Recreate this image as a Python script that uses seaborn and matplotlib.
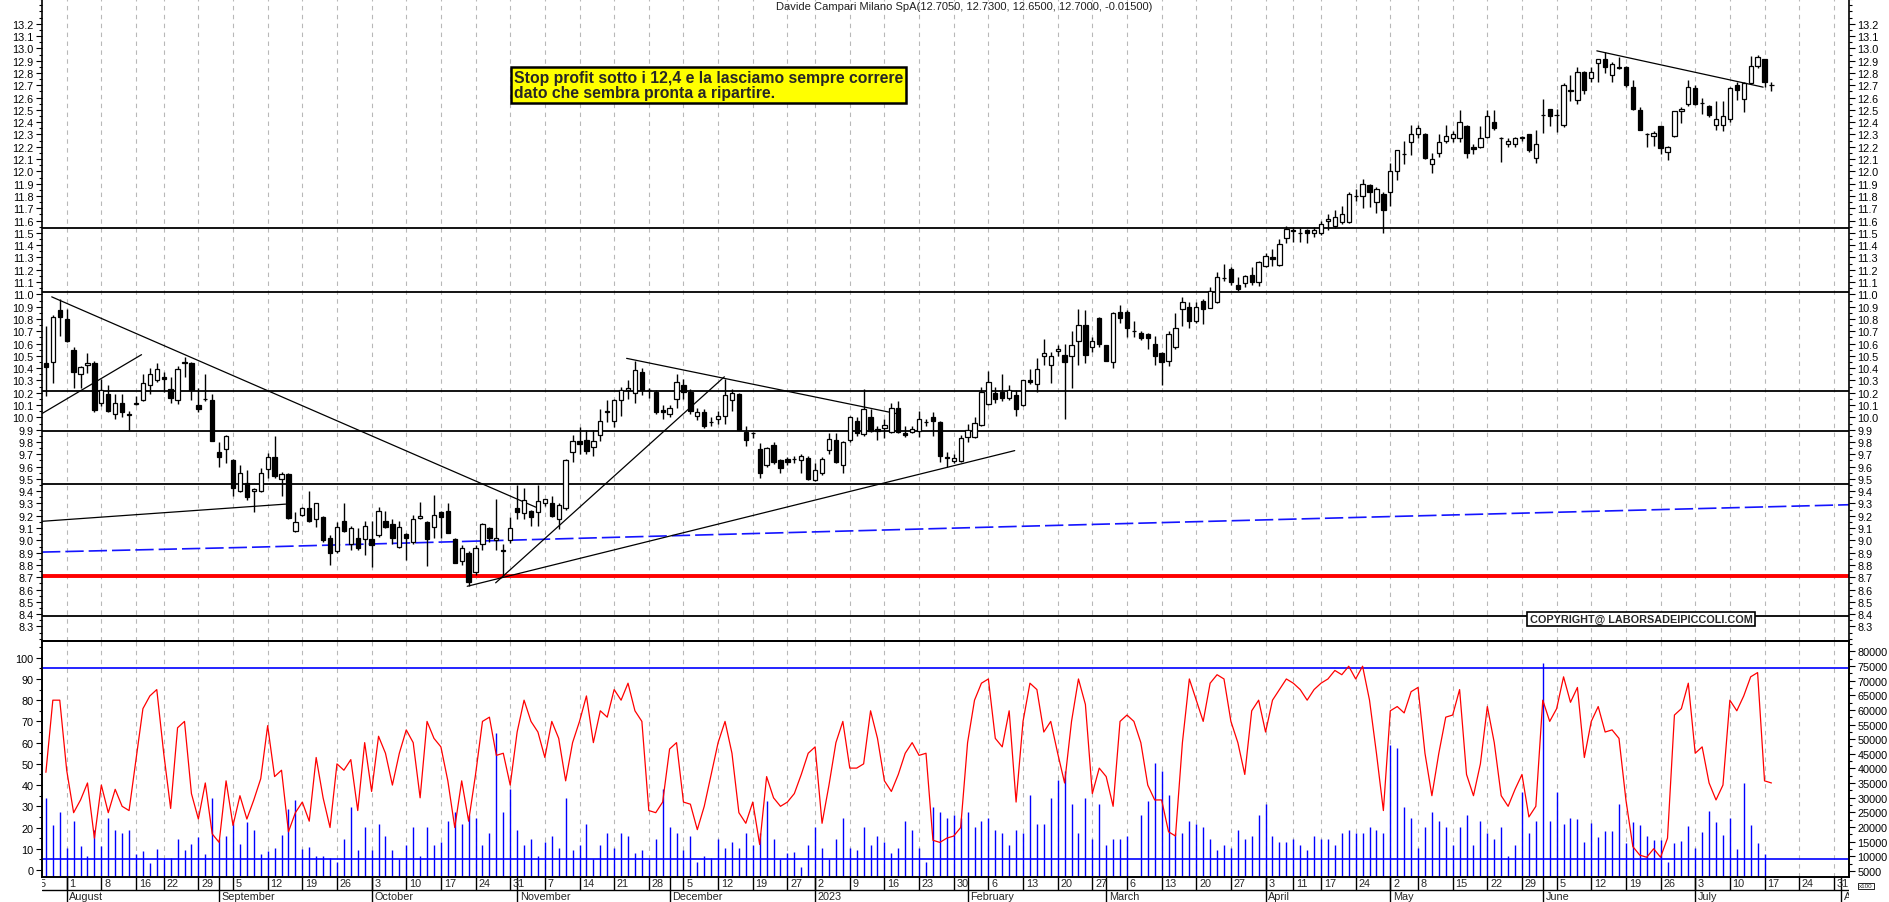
import numpy as np
import pandas as pd
import matplotlib
matplotlib.use("Agg")
import matplotlib.pyplot as plt
from matplotlib.ticker import FixedLocator, FormatStrFormatter
import seaborn as sns

sns.set_theme(style="white")
plt.rcParams['font.family'] = ['Liberation Sans', 'DejaVu Sans']

# ---------------- DATA ----------------
TITLE = "Davide Campari Milano SpA(12.7050, 12.7300, 12.6500, 12.7000, -0.01500)"
NOTE = "Stop profit sotto i 12,4 e la lasciamo sempre correre\ndato che sembra pronta a ripartire."
COPYRIGHT = "COPYRIGHT@ LABORSADEIPICCOLI.COM"
CAL_START, CAL_END = "2022-07-25", "2023-08-10"
FIRST_BAR = "2022-07-27"
HOLIDAYS = ["2022-08-15", "2022-12-26", "2023-04-07", "2023-04-10", "2023-05-01"]
MONTH_NAMES = {1: "2023", 2: "February", 3: "March", 4: "April", 5: "May", 6: "June",
               7: "July", 8: "August", 9: "September", 10: "October", 11: "November", 12: "December"}

opens = [10.44, 10.45, 10.87, 10.80, 10.55, 10.35, 10.43, 10.44, 10.12, 10.19,
         10.03, 10.12, 10.03, 10.11, 10.14, 10.26, 10.30, 10.33, 10.23, 10.14,
         10.44, 10.44, 10.10, 10.15, 10.14, 9.72, 9.74, 9.65, 9.40, 9.47,
         9.40, 9.40, 9.58, 9.68, 9.50, 9.54, 9.08, 9.21, 9.26, 9.17,
         9.19, 9.02, 8.91, 9.155, 8.97, 9.02, 9.01, 9.01, 9.04, 9.155,
         9.13, 8.95, 9.05, 8.99, 9.18, 9.15, 9.11, 9.23, 9.24, 9.01,
         8.83, 8.90, 8.745, 8.97, 9.10, 9.00, 8.91, 9.00, 9.26, 9.22,
         9.24, 9.23, 9.30, 9.30, 9.17, 9.26, 9.72, 9.81, 9.82, 9.76,
         9.86, 10.04, 9.97, 10.14, 10.22, 10.20, 10.366, 10.22, 10.21, 10.06,
         10.03, 10.15, 10.26, 10.21, 10.01, 10.04, 9.96, 9.99, 10.01, 10.14,
         10.19, 9.88, 9.87, 9.74, 9.61, 9.775, 9.65, 9.66, 9.66, 9.65,
         9.67, 9.49, 9.545, 9.735, 9.82, 9.61, 9.82, 9.97, 9.865, 10.0,
         9.905, 9.91, 9.88, 10.08, 9.873, 9.884, 9.886, 9.965, 10.0, 9.965,
         9.68, 9.648, 9.648, 9.84, 9.838, 9.94, 10.109, 10.20, 10.21, 10.16,
         10.18, 10.10, 10.30, 10.27, 10.50, 10.43, 10.54, 10.51, 10.50, 10.62,
         10.75, 10.57, 10.81, 10.59, 10.45, 10.86, 10.86, 10.70, 10.685, 10.675,
         10.60, 10.52, 10.46, 10.57, 10.88, 10.90, 10.78, 10.95, 10.89, 10.94,
         11.13, 11.21, 11.08, 11.09, 11.16, 11.10, 11.23, 11.30, 11.24, 11.46,
         11.52, 11.50, 11.52, 11.50, 11.50, 11.60, 11.56, 11.59, 11.59, 11.80,
         11.80, 11.89, 11.75, 11.82, 11.83, 12.00, 12.14, 12.24, 12.30, 12.30,
         12.06, 12.15, 12.25, 12.27, 12.27, 12.37, 12.20, 12.20, 12.28, 12.40,
         12.27, 12.22, 12.22, 12.27, 12.30, 12.11, 12.46, 12.51, 12.46, 12.38,
         12.65, 12.58, 12.81, 12.76, 12.88, 12.91, 12.78, 12.85, 12.85, 12.69,
         12.50, 12.30, 12.29, 12.37, 12.16, 12.29, 12.49, 12.55, 12.68, 12.56,
         12.53, 12.38, 12.38, 12.43, 12.70, 12.59, 12.72, 12.86, 12.91, 12.705]

highs = [10.74, 10.83, 10.96, 10.88, 10.57, 10.42, 10.52, 10.46, 10.31, 10.26,
         10.19, 10.19, 10.05, 10.17, 10.35, 10.40, 10.44, 10.37, 10.33, 10.42,
         10.49, 10.45, 10.24, 10.35, 10.19, 9.80, 9.86, 9.66, 9.61, 9.57,
         9.43, 9.59, 9.71, 9.85, 9.56, 9.55, 9.23, 9.27, 9.40, 9.30,
         9.20, 9.04, 9.15, 9.30, 9.12, 9.10, 9.16, 9.16, 9.27, 9.24,
         9.17, 9.16, 9.06, 9.21, 9.31, 9.16, 9.37, 9.24, 9.30, 9.02,
         8.96, 8.91, 8.96, 9.14, 9.11, 9.34, 8.97, 9.19, 9.45, 9.43,
         9.25, 9.45, 9.34, 9.36, 9.30, 9.66, 9.86, 9.92, 9.90, 9.90,
         10.07, 10.14, 10.15, 10.25, 10.30, 10.46, 10.40, 10.24, 10.22, 10.10,
         10.10, 10.35, 10.31, 10.23, 10.08, 10.07, 10.0, 10.05, 10.31, 10.23,
         10.20, 9.93, 9.88, 9.79, 9.76, 9.80, 9.66, 9.68, 9.69, 9.70,
         9.69, 9.63, 9.68, 9.87, 9.87, 9.81, 10.01, 10.0, 10.23, 10.07,
         9.93, 9.99, 10.12, 10.13, 9.93, 9.93, 10.05, 9.99, 10.04, 9.97,
         9.72, 9.70, 9.86, 9.95, 10.0, 10.25, 10.38, 10.25, 10.35, 10.26,
         10.22, 10.30, 10.39, 10.48, 10.64, 10.53, 10.59, 10.60, 10.70, 10.88,
         10.87, 10.65, 10.82, 10.59, 10.86, 10.91, 10.87, 10.78, 10.70, 10.69,
         10.66, 10.53, 10.70, 10.85, 10.98, 10.94, 10.94, 10.96, 11.06, 11.18,
         11.25, 11.22, 11.14, 11.16, 11.22, 11.27, 11.34, 11.37, 11.45, 11.56,
         11.55, 11.54, 11.53, 11.55, 11.60, 11.65, 11.69, 11.72, 11.83, 11.86,
         11.94, 11.90, 11.87, 11.83, 12.07, 12.17, 12.25, 12.38, 12.38, 12.31,
         12.15, 12.30, 12.38, 12.33, 12.50, 12.38, 12.22, 12.37, 12.50, 12.50,
         12.28, 12.27, 12.28, 12.29, 12.30, 12.34, 12.59, 12.51, 12.51, 12.72,
         12.78, 12.85, 12.82, 12.85, 12.91, 12.97, 12.89, 12.93, 12.86, 12.74,
         12.52, 12.31, 12.33, 12.37, 12.21, 12.49, 12.52, 12.74, 12.70, 12.60,
         12.54, 12.57, 12.57, 12.69, 12.73, 12.73, 12.94, 12.95, 12.91, 12.73]

lows = [10.17, 10.28, 10.66, 10.61, 10.24, 10.24, 10.36, 10.04, 10.09, 10.04,
        9.99, 10.00, 9.90, 10.10, 10.13, 10.19, 10.29, 10.21, 10.12, 10.11,
        10.33, 10.14, 10.04, 10.13, 9.81, 9.60, 9.63, 9.36, 9.39, 9.33,
        9.23, 9.39, 9.51, 9.51, 9.36, 9.17, 9.07, 9.20, 9.15, 9.11,
        8.99, 8.80, 8.90, 9.07, 8.92, 8.92, 8.88, 8.78, 9.03, 9.10,
        8.97, 8.94, 8.84, 8.97, 9.17, 8.79, 9.02, 9.02, 9.06, 8.82,
        8.80, 8.63, 8.72, 8.92, 8.99, 8.92, 8.71, 8.98, 9.17, 9.17,
        9.12, 9.12, 9.28, 9.19, 9.09, 9.25, 9.635, 9.70, 9.70, 9.69,
        9.81, 9.96, 9.92, 10.01, 10.15, 10.12, 10.18, 10.16, 10.03, 9.99,
        10.00, 10.08, 10.15, 10.03, 9.98, 9.91, 9.93, 9.95, 9.95, 10.05,
        9.90, 9.77, 9.83, 9.51, 9.60, 9.62, 9.55, 9.61, 9.63, 9.55,
        9.49, 9.48, 9.53, 9.70, 9.63, 9.55, 9.80, 9.85, 9.85, 9.88,
        9.82, 9.83, 9.87, 9.87, 9.84, 9.87, 9.84, 9.93, 9.85, 9.64,
        9.60, 9.63, 9.64, 9.80, 9.83, 9.93, 10.10, 10.12, 10.13, 10.14,
        10.01, 10.09, 10.27, 10.21, 10.43, 10.28, 10.50, 9.99, 10.24, 10.43,
        10.44, 10.53, 10.57, 10.46, 10.40, 10.77, 10.65, 10.65, 10.63, 10.56,
        10.43, 10.26, 10.42, 10.56, 10.74, 10.73, 10.77, 10.76, 10.89, 10.93,
        11.11, 11.08, 11.03, 11.06, 11.08, 11.07, 11.22, 11.23, 11.23, 11.42,
        11.43, 11.43, 11.42, 11.47, 11.48, 11.52, 11.54, 11.57, 11.58, 11.76,
        11.70, 11.71, 11.66, 11.50, 11.72, 11.93, 12.06, 12.13, 12.27, 12.10,
        11.99, 12.12, 12.23, 12.24, 12.24, 12.11, 12.14, 12.19, 12.27, 12.34,
        12.08, 12.20, 12.20, 12.25, 12.16, 12.07, 12.31, 12.37, 12.32, 12.36,
        12.57, 12.55, 12.63, 12.73, 12.73, 12.80, 12.73, 12.83, 12.69, 12.50,
        12.34, 12.20, 12.21, 12.14, 12.09, 12.28, 12.39, 12.53, 12.54, 12.47,
        12.44, 12.34, 12.33, 12.40, 12.58, 12.48, 12.71, 12.84, 12.69, 12.65]

closes = [10.41, 10.82, 10.82, 10.62, 10.37, 10.41, 10.44, 10.06, 10.22, 10.05,
          10.12, 10.04, 10.02, 10.12, 10.28, 10.35, 10.39, 10.31, 10.16, 10.39,
          10.45, 10.22, 10.07, 10.15, 9.81, 9.68, 9.85, 9.43, 9.55, 9.35,
          9.42, 9.55, 9.68, 9.52, 9.54, 9.18, 9.15, 9.26, 9.16, 9.30,
          9.00, 8.90, 9.11, 9.08, 9.10, 8.94, 9.12, 8.965, 9.24, 9.11,
          9.02, 9.11, 9.02, 9.17, 9.20, 9.01, 9.21, 9.19, 9.06, 8.82,
          8.94, 8.66, 8.94, 9.13, 9.02, 9.02, 8.92, 9.10, 9.23, 9.33,
          9.19, 9.32, 9.34, 9.20, 9.29, 9.65, 9.81, 9.78, 9.73, 9.81,
          9.97, 10.05, 10.14, 10.22, 10.24, 10.385, 10.225, 10.22, 10.04, 10.04,
          10.08, 10.285, 10.21, 10.05, 10.04, 9.93, 9.965, 10.01, 10.18, 10.20,
          9.90, 9.82, 9.87, 9.55, 9.75, 9.635, 9.59, 9.635, 9.66, 9.69,
          9.50, 9.57, 9.66, 9.825, 9.635, 9.80, 10.00, 9.87, 10.07, 9.89,
          9.89, 9.94, 10.08, 9.885, 9.857, 9.905, 9.987, 9.965, 9.973, 9.683,
          9.667, 9.67, 9.83, 9.90, 9.952, 10.204, 10.285, 10.15, 10.16, 10.22,
          10.07, 10.30, 10.285, 10.39, 10.52, 10.50, 10.56, 10.45, 10.59, 10.75,
          10.51, 10.62, 10.60, 10.46, 10.85, 10.81, 10.73, 10.70, 10.645, 10.645,
          10.50, 10.45, 10.68, 10.73, 10.94, 10.78, 10.90, 10.88, 11.03, 11.14,
          11.13, 11.10, 11.04, 11.15, 11.10, 11.26, 11.31, 11.29, 11.41, 11.53,
          11.515, 11.50, 11.50, 11.52, 11.57, 11.61, 11.63, 11.65, 11.82, 11.80,
          11.90, 11.83, 11.86, 11.69, 12.00, 12.17, 12.14, 12.30, 12.35, 12.11,
          12.10, 12.24, 12.29, 12.30, 12.40, 12.15, 12.18, 12.27, 12.45, 12.35,
          12.27, 12.25, 12.27, 12.28, 12.17, 12.22, 12.46, 12.45, 12.46, 12.70,
          12.66, 12.81, 12.66, 12.81, 12.91, 12.85, 12.87, 12.84, 12.70, 12.51,
          12.34, 12.30, 12.31, 12.19, 12.20, 12.49, 12.51, 12.69, 12.55, 12.56,
          12.46, 12.43, 12.45, 12.68, 12.66, 12.72, 12.86, 12.93, 12.73, 12.70]

oscillator = [46, 80, 80, 47, 27, 33, 41, 15, 40, 27,
              38, 30, 28, 52, 76, 82, 85, 55, 29, 67,
              70, 36, 24, 41, 17, 13, 42, 21, 35, 24,
              33, 43, 68, 44, 47, 18, 27, 32, 23, 53,
              34, 20, 50, 47, 52, 28, 60, 37, 63, 55,
              40, 55, 66, 60, 34, 70, 62, 58, 42, 20,
              42, 23, 45, 70, 72, 54, 55, 40, 65, 80,
              70, 65, 53, 70, 62, 42, 60, 70, 82, 60,
              75, 72, 85, 80, 88, 75, 70, 28, 27, 32,
              57, 60, 32, 31, 19, 30, 45, 60, 70, 55,
              27, 22, 32, 12, 44, 34, 30, 32, 36, 45,
              55, 58, 22, 40, 60, 70, 48, 48, 50, 75,
              62, 42, 37, 45, 55, 60, 54, 55, 14, 13,
              15, 16, 20, 60, 80, 88, 90, 62, 58, 75,
              32, 70, 88, 85, 65, 70, 55, 41, 70, 90,
              78, 36, 48, 44, 30, 70, 73, 70, 60, 40,
              33, 33, 18, 16, 60, 90, 80, 70, 88, 92,
              90, 70, 60, 45, 75, 80, 65, 80, 85, 90,
              88, 85, 80, 85, 88, 90, 94, 92, 96, 90,
              96, 80, 55, 28, 75, 77, 74, 84, 86, 55,
              35, 55, 72, 73, 85, 45, 35, 50, 77, 60,
              35, 30, 38, 45, 25, 30, 80, 70, 76, 91,
              79, 86, 53, 70, 77, 65, 66, 62, 33, 11,
              7, 6, 10, 6, 15, 73, 76, 88, 55, 58,
              41, 33, 40, 80, 75, 82, 91, 93, 42, 41]

volume_x100 = [29900, 20700, 25200, 12900, 22200, 13500, 10100, 19000, 13600, 23100,
               19100, 18000, 19100, 10800, 11800, 7700, 12500, 9000, 9300, 15900,
               12300, 14200, 16600, 10800, 29900, 15900, 16900, 21300, 14200, 21800,
               19100, 10700, 11900, 12700, 17300, 26200, 29200, 12500, 13200, 10100,
               10000, 9500, 8000, 16000, 27000, 12000, 20000, 12000, 21000, 17000,
               12000, 9000, 14000, 20000, 10000, 20000, 14000, 15000, 22000, 25000,
               21000, 24000, 23000, 14000, 18000, 52000, 25000, 33000, 19000, 14000,
               16000, 10000, 15000, 17000, 13000, 30000, 12000, 14000, 21000, 9000,
               14000, 18000, 13000, 18000, 17000, 11000, 12000, 9000, 16000, 33000,
               20000, 18000, 12000, 17000, 8000, 10000, 9500, 16000, 13000, 15000,
               13000, 18000, 14000, 18000, 29000, 16000, 9000, 11000, 11500, 6500,
               14000, 20000, 13000, 9000, 16000, 23000, 13000, 12000, 20000, 14000,
               17000, 15000, 11000, 13000, 22000, 19000, 13000, 8000, 27000, 25000,
               23000, 24000, 23000, 25000, 20000, 22000, 23000, 19000, 18000, 14000,
               19000, 18000, 31000, 21000, 21000, 30000, 36000, 39000, 28000, 18000,
               30000, 16000, 28000, 14000, 16000, 16000, 17000, 2000, 24000, 29000,
               42000, 39000, 31000, 18000, 18000, 22000, 21000, 20000, 16000, 12000,
               14000, 13000, 19000, 16000, 17000, 24000, 28000, 17000, 15000, 15000,
               16000, 14000, 12000, 17000, 16000, 16000, 14000, 18000, 19000, 18000,
               18000, 20000, 19000, 18000, 48000, 47000, 27000, 23000, 13000, 20000,
               25000, 22000, 20000, 14000, 20000, 24000, 14000, 22000, 18000, 16000,
               20000, 10000, 14000, 32000, 18000, 22000, 76000, 22000, 32000, 21000,
               23000, 22700, 15000, 21400, 16600, 18600, 18600, 27900, 14500, 21600,
               20700, 16800, 15700, 15700, 8000, 14500, 15300, 20300, 12800, 18400,
               25500, 21800, 17300, 23100, 12500, 34900, 20700, 14500, 10800, 2000]

# support / resistance levels and drawn trend lines (bar index, price)
levels_black = [11.537, 11.022, 10.212, 9.887, 9.456, 8.383]
level_red = 8.713
trend_lines = [((0.84, 10.98), (70.7, 9.27)),
               ((-0.6, 10.03), (13.8, 10.51)),
               ((-0.6, 9.155), (34.6, 9.295)),
               ((60.8, 8.627), (139.8, 9.73)),
               ((64.9, 8.655), (97.9, 10.33)),
               ((83.8, 10.48), (122.8, 10.03)),
               ((223.8, 12.98), (247.8, 12.685))]
ma_index = [-0.56, 29.5, 94.4, 137.7, 195.4, 260.2]
ma_value = [8.905, 8.944, 9.044, 9.11, 9.196, 9.29]
osc_levels = [5, 95]

# ---------------- CALENDAR ----------------
days = pd.bdate_range(CAL_START, CAL_END)
days = days[~days.isin(pd.to_datetime(HOLIDAYS))]
offset = int(np.where(days == pd.Timestamp(FIRST_BAR))[0][0])
pos_all = np.arange(len(days)) - offset
cal = pd.DataFrame({"date": days, "pos": pos_all})
iso = cal["date"].dt.isocalendar()
week_first = cal.groupby([iso["year"].values, iso["week"].values])["pos"].min().values
month_first = cal[cal["date"].dt.day <= 7].groupby(
    [cal["date"].dt.year, cal["date"].dt.month])["pos"].min().dropna().astype(int).values

n = len(closes)
x = np.arange(n)

# ---------------- FIGURE ----------------
W, H = 1890, 903
L, R = 42, 1849
fig = plt.figure(figsize=(W / 100, H / 100), dpi=100)
fig.patch.set_facecolor("white")


def box(top, bottom):
    return [L / W, 1 - bottom / H, (R - L) / W, (bottom - top) / H]


XL = (-0.563, 260.19)
ax_p = fig.add_axes(box(0, 642))
ax_o = fig.add_axes(box(642, 877.7))
ax_v = ax_o.twinx()
ax_x = fig.add_axes(box(877.7, 903))

for a in (ax_p, ax_o, ax_v, ax_x):
    a.set_xlim(*XL)
    a.set_facecolor("white")

grid_kw = dict(color="#b8b8b8", lw=0.8, ls=(0, (4, 4)), zorder=0)
for p in week_first:
    if XL[0] < p < XL[1]:
        ax_p.axvline(p, **grid_kw)
        ax_v.axvline(p, **grid_kw)

# ---- price panel
ax_p.set_ylim(8.1821, 13.4016)
for lv in levels_black:
    ax_p.axhline(lv, color="black", lw=1.3, zorder=2)
ax_p.axhline(level_red, color="#ff0000", lw=2.8, zorder=2)
sns.lineplot(x=ma_index, y=ma_value, ax=ax_p, color="#1414ff", lw=1.2,
             linestyle=(0, (11, 3)), zorder=2)
for (x0, y0), (x1, y1) in trend_lines:
    ax_p.plot([x0, x1], [y0, y1], color="black", lw=0.9, zorder=3)

o = np.array(opens); c = np.array(closes); h = np.array(highs); lo = np.array(lows)
up = c >= o
ax_p.vlines(x, lo, h, color="black", lw=1.0, zorder=4)
body_h = np.abs(c - o)
ax_p.bar(x, body_h, bottom=np.minimum(o, c), width=0.62,
         color=np.where(up, "white", "black"), edgecolor="black", linewidth=0.9, zorder=5)

ax_p.yaxis.set_major_locator(FixedLocator(np.round(np.arange(8.3, 13.21, 0.1), 2)))
ax_p.yaxis.set_minor_locator(FixedLocator(np.round(np.arange(8.2, 13.41, 0.05), 3)))
ax_p.yaxis.set_major_formatter(FormatStrFormatter("%.1f"))
ax_p.tick_params(axis="y", which="both", direction="out", left=True, right=True,
                 labelleft=True, labelright=True, labelsize=7.8, pad=1.5, colors="black")
ax_p.tick_params(axis="y", which="major", length=4.5, width=0.8)
ax_p.tick_params(axis="y", which="minor", length=2.2, width=0.8)
ax_p.set_xticks([])
ax_p.set_ylabel("")
ax_p.spines["top"].set_visible(False)
for s in ("left", "right", "bottom"):
    ax_p.spines[s].set_color("black"); ax_p.spines[s].set_linewidth(1.2)

# ---- lower panel: volume (right) and oscillator (left)
ax_v.set_ylim(3034, 83517)
ax_v.vlines(x, 0, volume_x100, color="#0000ff", lw=1.0, zorder=2)
ax_v.yaxis.set_major_locator(FixedLocator(np.arange(5000, 80001, 5000)))
ax_v.yaxis.set_minor_locator(FixedLocator(np.arange(2500, 82501, 2500)))
ax_v.yaxis.set_major_formatter(FormatStrFormatter("%d"))
ax_v.tick_params(axis="y", which="both", direction="out", labelsize=7.8, pad=1.5, colors="black")
ax_v.tick_params(axis="y", which="major", length=4.5, width=0.8)
ax_v.tick_params(axis="y", which="minor", length=2.2, width=0.8)

ax_o.set_zorder(ax_v.get_zorder() + 1)
ax_o.patch.set_visible(False)
ax_o.set_ylim(-3.16, 107.88)
for lv in osc_levels:
    ax_o.axhline(lv, color="#0000ff", lw=1.2, zorder=2)
sns.lineplot(x=x, y=oscillator, ax=ax_o, color="#ff0000", lw=0.9, zorder=3)
ax_o.yaxis.set_major_locator(FixedLocator(np.arange(0, 101, 10)))
ax_o.yaxis.set_minor_locator(FixedLocator(np.arange(-5, 106, 5)))
ax_o.tick_params(axis="y", which="both", direction="out", left=True, labelleft=True,
                 labelsize=7.8, pad=1.5, colors="black")
ax_o.tick_params(axis="y", which="major", length=4.5, width=0.8)
ax_o.tick_params(axis="y", which="minor", length=2.2, width=0.8)
ax_o.set_xticks([]); ax_v.set_xticks([])
ax_o.set_ylabel(""); ax_v.set_ylabel("")
for a in (ax_o, ax_v):
    for s in a.spines.values():
        s.set_color("black"); s.set_linewidth(1.2)

# ---- date strip
ax_x.set_ylim(0, 1)
ax_x.axis("off")
ax_x.axhline(0.486, color="black", lw=1.0)
date_of = dict(zip(cal["pos"], cal["date"]))
for p in week_first:
    if XL[0] - 3 < p < XL[1]:
        ax_x.vlines(p, 0.486, 1, color="black", lw=1.0)
        t = ax_x.text(p + 0.4, 0.74, str(date_of[p].day), ha="left", va="center",
                      fontsize=7.8, clip_on=True)
        t.set_clip_box(ax_x.bbox)
for p in month_first:
    if XL[0] < p < XL[1]:
        ax_x.vlines(p, 0, 1, color="black", lw=1.0)
        t = ax_x.text(p + 0.4, 0.22, MONTH_NAMES[date_of[p].month], ha="left", va="center",
                      fontsize=7.8, clip_on=True)
        t.set_clip_box(ax_x.bbox)

# ---- texts
fig.text(964 / W, 1 - 7 / H, TITLE, ha="center", va="center", fontsize=8, color="#202020")
fig.text(514 / W, 1 - 86 / H, NOTE, ha="left", va="center", fontsize=11.3, fontweight="bold",
         linespacing=1.08,
         bbox=dict(boxstyle="square,pad=0.18", fc="#ffff00", ec="black", lw=1.8))
fig.text(1641 / W, 1 - 620 / H, COPYRIGHT, ha="center", va="center", fontsize=7.8,
         fontweight="bold", bbox=dict(boxstyle="square,pad=0.2", fc="white", ec="black", lw=1.2))
fig.text(1866 / W, 1 - 887 / H, "x100", ha="center", va="center", fontsize=4.5,
         bbox=dict(boxstyle="square,pad=0.15", fc="white", ec="black", lw=0.6))

fig.savefig("out.png", dpi=100, facecolor="white")
